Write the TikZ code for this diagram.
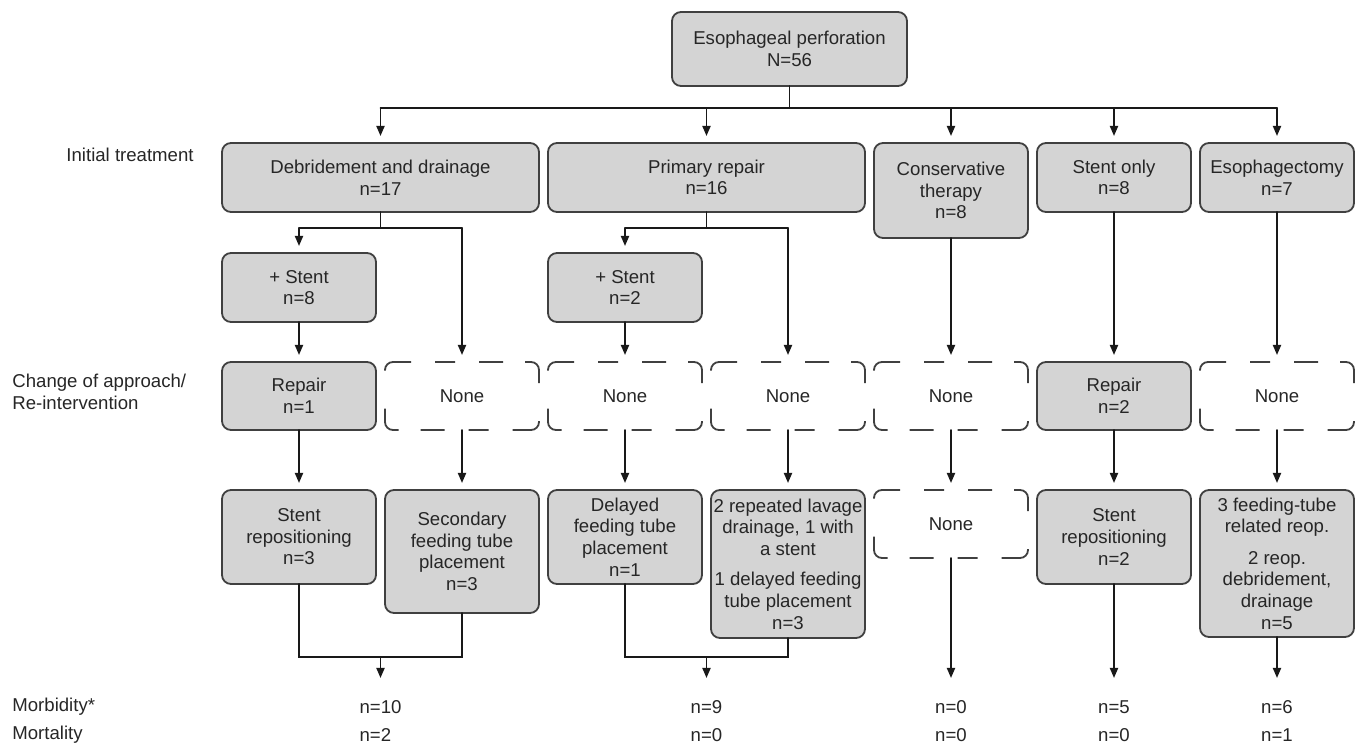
\documentclass[tikz,border=0pt]{standalone}
\usepackage{fontspec}
\setmainfont{Liberation Sans}
\usepackage{tikz}
\usetikzlibrary{arrows.meta}
\usepackage{xcolor}

\newcommand{\noneframe}[1]{%
  \draw[noneline] ([yshift=-7.5pt]#1.north west) -- (#1.north west) -- (#1.north east) -- (#1.south east) -- (#1.south west) -- cycle;}

\begin{document}
\begin{tikzpicture}[x=0.5pt,y=-0.5pt,>={Triangle[length=5pt,width=4pt]},font=\fontsize{9.3}{10.8}\selectfont,line cap=round,
  box/.style={draw=black!75,fill=black!17,line width=0.9pt,rounded corners=4.5pt,align=center,inner sep=0.5pt,outer sep=0pt,text=black!85,minimum width=77pt},
  nonebox/.style={align=center,inner sep=0.5pt,outer sep=0pt,text=black!85,minimum width=77pt,minimum height=34pt},
  noneline/.style={draw=black!75,line width=0.9pt,line cap=butt,rounded corners=4pt,dash pattern=on 15.8pt off 12pt on 10pt off 12pt on 12pt off 11pt on 15.8pt off 19pt},
  link/.style={draw=black!90,line width=0.9pt},
  arr/.style={link,->,shorten >=3.5pt},
  drop/.style={link,->},
  lbl/.style={text=black!85,inner sep=0pt},
  val/.style={text=black!85,inner sep=0pt,align=left}]
\useasboundingbox (0,0) rectangle (1357,747);
\node[box,minimum width=117.5pt,minimum height=37pt] (perf) at (789.5,49) {Esophageal perforation\\N=56};
\node[box,minimum width=158.5pt,minimum height=34.5pt] (debr) at (380.5,177.5) {Debridement and drainage\\n=17};
\node[box,minimum width=158.5pt,minimum height=34.5pt] (prim) at (706.5,177.5) {Primary repair\\n=16};
\node[box,minimum height=47.5pt] (cons) at (951,190.5) {Conservative\\therapy\\n=8};
\node[box,minimum height=34.5pt] (sonly) at (1114,177.5) {Stent only\\n=8};
\node[box,minimum height=34.5pt] (esoph) at (1277,177.5) {Esophagectomy\\n=7};
\node[box,minimum height=34.5pt] (stentA) at (299,287.5) {+ Stent\\n=8};
\node[box,minimum height=34.5pt] (stentB) at (625,287.5) {+ Stent\\n=2};
\node[box,minimum height=34pt] (repA) at (299,396) {Repair\\n=1};
\node[nonebox] (noneB) at (462,396) {None};
\node[nonebox] (noneC) at (625,396) {None};
\node[nonebox] (noneD) at (788,396) {None};
\node[nonebox] (noneE) at (951,396) {None};
\node[box,minimum height=34pt] (repF) at (1114,396) {Repair\\n=2};
\node[nonebox] (noneG) at (1277,396) {None};
\node[box,minimum height=47pt] (outA) at (299,537) {Stent\\repositioning\\n=3};
\node[box,minimum height=61.5pt] (outB) at (462,551.5) {Secondary\\feeding tube\\placement\\n=3};
\node[box,minimum height=47pt] (outC) at (625,537) {Delayed\\feeding tube\\placement\\n=1};
\node[box,minimum height=74pt] (outD) at (788,564) {2 repeated lavage\\drainage, 1 with\\a stent\\[4.5pt]1 delayed feeding\\tube placement\\n=3};
\node[nonebox] (outE) at (951,524) {None};
\node[box,minimum height=47pt] (outF) at (1114,537) {Stent\\repositioning\\n=2};
\node[box,minimum height=73.5pt] (outG) at (1277,563.5) {3 feeding-tube\\related reop.\\[5pt]2 reop.\\debridement,\\drainage\\n=5};
\foreach \n in {noneB,noneC,noneD,noneE,noneG,outE} \noneframe{\n};
\node[lbl,anchor=east] (initLbl) at (194,155) {Initial treatment};
\node[lbl,anchor=west,align=left] (changeLbl) at (12,392) {Change of approach/\\Re-intervention};
\node[lbl,anchor=west,align=left] (outcomeLbl) at (12,721) {Morbidity*\\[3.2pt]Mortality};
\node[val] (valA) at (380.5,721) {n=10\\[3.2pt]n=2};
\node[val] (valB) at (706.5,721) {n=9\\[3.2pt]n=0};
\node[val] (valE) at (951,721) {n=0\\[3.2pt]n=0};
\node[val] (valF) at (1114,721) {n=5\\[3.2pt]n=0};
\node[val] (valG) at (1277,721) {n=6\\[3.2pt]n=1};
\coordinate (bar) at (0,108);
\coordinate (forkA) at (0,228);
\coordinate (join) at (0,657);
\coordinate (endA) at (380.5,678);
\coordinate (endB) at (706.5,678);
\coordinate (endE) at (951,678);
\coordinate (endF) at (1114,678);
\coordinate (endG) at (1277,678);
\draw[link] (perf.south) -- (perf.south |- bar);
\draw[link] (debr.north |- bar) -- (esoph.north |- bar);
\foreach \n in {debr,prim,cons,sonly,esoph} \draw[arr] (\n.north |- bar) -- (\n.north);
\draw[link] (debr.south) -- (debr.south |- forkA);
\draw[link] (stentA.north |- forkA) -- (noneB.north |- forkA);
\draw[arr] (stentA.north |- forkA) -- (stentA.north);
\draw[arr] (noneB.north |- forkA) -- (noneB.north);
\draw[link] (prim.south) -- (prim.south |- forkA);
\draw[link] (stentB.north |- forkA) -- (noneD.north |- forkA);
\draw[arr] (stentB.north |- forkA) -- (stentB.north);
\draw[arr] (noneD.north |- forkA) -- (noneD.north);
\draw[arr] (stentA.south) -- (repA.north);
\draw[arr] (stentB.south) -- (noneC.north);
\draw[arr] (cons.south) -- (noneE.north);
\draw[arr] (sonly.south) -- (repF.north);
\draw[arr] (esoph.south) -- (noneG.north);
\foreach \a/\b in {repA/outA,noneB/outB,noneC/outC,noneD/outD,noneE/outE,repF/outF,noneG/outG} \draw[arr] (\a.south) -- (\b.north);
\draw[link] (outA.south) -- (outA.south |- join) -- (outB.south |- join) -- (outB.south);
\draw[link] (outC.south) -- (outC.south |- join) -- (outD.south |- join) -- (outD.south);
\draw[drop] (endA |- join) -- (endA);
\draw[drop] (endB |- join) -- (endB);
\draw[drop] (outE.south) -- (endE);
\draw[drop] (outF.south) -- (endF);
\draw[drop] (outG.south) -- (endG);
\end{tikzpicture}
\end{document}
